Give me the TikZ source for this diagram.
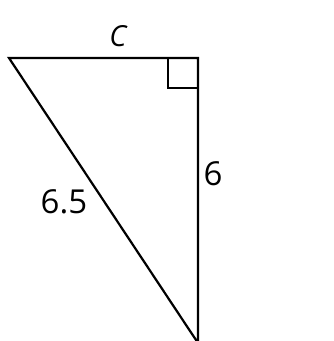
\documentclass[tikz,border=0pt]{standalone}
\usepackage{fontspec}
\setmainfont{Open Sans}
\usepackage{tikz}
\usetikzlibrary{positioning, calc}

\tikzset{
  side/.style={draw=black, line width=2.2pt, line join=miter},
  sidelabel/.style={inner sep=0pt, font=\fontsize{33}{36}\selectfont},
  varlabel/.style={inner sep=0pt, font=\fontsize{29}{32}\selectfont\itshape}
}

\begin{document}
\begin{tikzpicture}[x=1pt, y=-1pt]
\useasboundingbox (0,0) rectangle (334,341);
\coordinate (A) at (9,58);
\coordinate (B) at (198,58);
\coordinate (D) at (198,343);
% triangle and right angle mark
\draw[side] (A) -- (B) -- (D) -- cycle;
\draw[side, line width=2pt] ($(B)+(-30,0)$) |- ($(B)+(0,30)$);
% labels
\node[varlabel] (labC) at (118,36) {C};
\node[sidelabel] (labSix) at (213,174) {6};
\node[sidelabel] (labHyp) at (64,202) {6.5};
\end{tikzpicture}
\end{document}
